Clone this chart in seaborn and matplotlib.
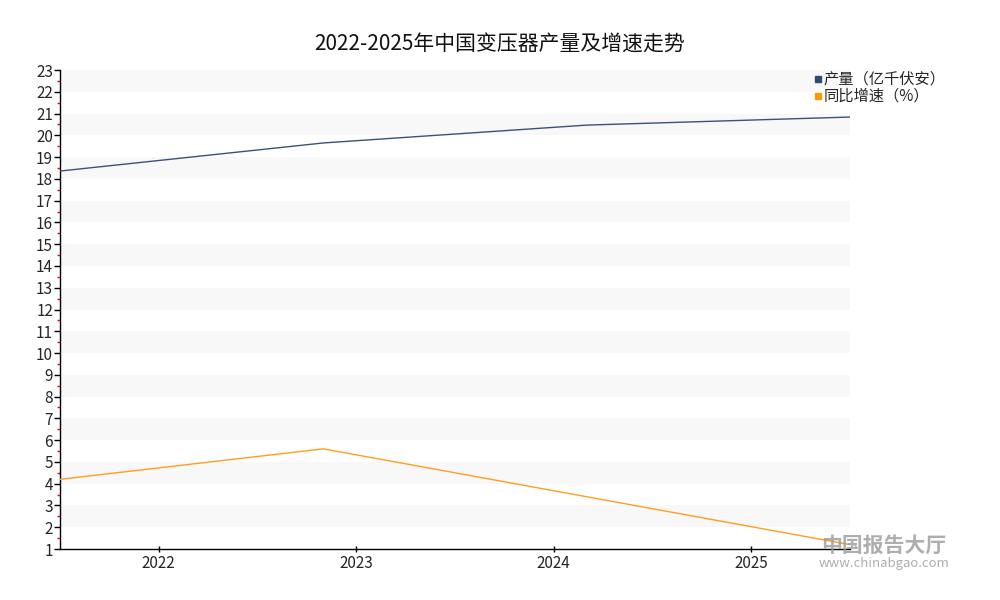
import numpy as np
import pandas as pd
import seaborn as sb
import matplotlib.pyplot as plt
from matplotlib.lines import Line2D
from matplotlib.ticker import MultipleLocator

years = ['2022', '2023', '2024', '2025']
output = [18.36, 19.65, 20.47, 20.84]   # 亿千伏安
growth = [4.2, 5.6, 3.4, 1.2]           # %
series_names = ['产量（亿千伏安）', '同比增速（%）']
colors = ['#3b5278', '#ff9f1c']
marker_colors = ['#2f4a73', '#ff9900']

sb.set_style('white')
plt.rcParams['font.family'] = ['Noto Sans CJK SC', 'DejaVu Sans']

n = len(years)
df = pd.DataFrame({
    'idx': list(range(n)) * 2,
    'value': output + growth,
    'series': [series_names[0]] * n + [series_names[1]] * n,
})

fig = plt.figure(figsize=(10, 6), dpi=100)
ax = fig.add_axes([0.06, 0.085, 0.79, 0.7983])

# striped background
for lo in range(2, 23, 2):
    ax.axhspan(lo, lo + 1, color='#f8f8f8', lw=0, zorder=0)

sb.lineplot(data=df, x='idx', y='value', hue='series', palette=colors,
            linewidth=1.0, legend=False, ax=ax, zorder=3)

ax.set_xlim(0, n - 1)
ax.set_ylim(1, 23)
ax.set_xticks([(i + 0.5) / n * (n - 1) for i in range(n)])
ax.set_xticklabels(years)
ax.set_xlabel('')
ax.set_ylabel('')

ax.yaxis.set_major_locator(MultipleLocator(1))
ax.yaxis.set_minor_locator(MultipleLocator(0.5))
ax.tick_params(axis='y', which='major', length=4, width=1, color='black',
               labelsize=11, pad=1, left=True)
ax.tick_params(axis='y', which='minor', length=2.5, width=1, color='red', left=True)
ax.tick_params(axis='x', which='major', length=5, width=1, color='black',
               direction='inout', labelsize=11, pad=2, bottom=True)

for s in ['top', 'right']:
    ax.spines[s].set_visible(False)
for s in ['left', 'bottom']:
    ax.spines[s].set_color('black')
    ax.spines[s].set_linewidth(1)

fig.text(0.5, 1 - 45 / 600, '2022-2025年中国变压器产量及增速走势',
         ha='center', va='center', fontsize=15, color='#111111')

handles = [Line2D([], [], ls='', marker='s', markersize=5, color=c) for c in marker_colors]
fig.legend(handles, series_names, loc='upper left', bbox_to_anchor=(0.813, 1 - 71 / 600),
           frameon=False, handlelength=0.6, handletextpad=0.1, labelspacing=0.0,
           fontsize=11, borderpad=0, borderaxespad=0)

# watermark
fig.text(0.884, 1 - 545 / 600, '中国报告大厅', ha='center', va='center',
         fontsize=15, color='#9a9a9a', alpha=0.8, fontweight='bold')
fig.text(0.884, 1 - 563 / 600, 'www.chinabgao.com', ha='center', va='center',
         fontsize=9.5, color='#9a9a9a', alpha=0.8)

plt.savefig('out.png', dpi=100)
